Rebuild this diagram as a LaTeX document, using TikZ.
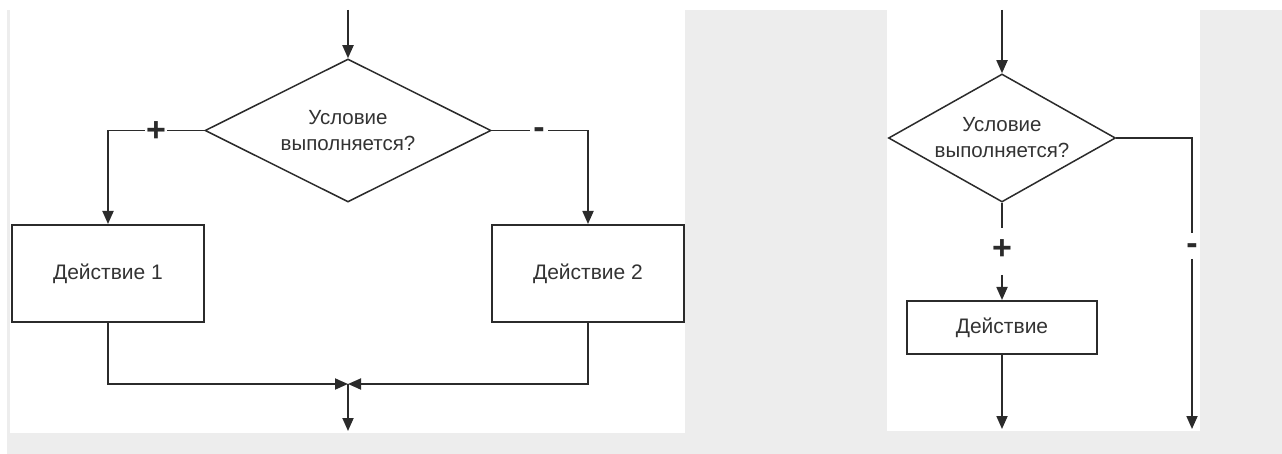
\documentclass[tikz,border=0pt]{standalone}
\usepackage{fontspec}
\setmainfont{Liberation Sans}
\usetikzlibrary{shapes.geometric,arrows.meta}
\definecolor{bggray}{HTML}{EDEDED}
\definecolor{ink}{HTML}{2B2B2B}
\definecolor{txt}{HTML}{333333}
\newcommand{\zw}[1]{\makebox[0pt]{#1}}
\begin{document}
\begin{tikzpicture}[x=1pt,y=-1pt,
  conn/.style={draw=ink, line width=1.8pt, -{Triangle[width=11pt,length=13pt]}},
  wire/.style={draw=ink, line width=1.8pt},
  dec/.style={diamond, draw=ink, line width=1.5pt, inner sep=0pt, align=center,
    font=\fontsize{20.5}{26}\selectfont, text=txt},
  act/.style={rectangle, draw=ink, line width=2pt, inner sep=0pt,
    font=\fontsize{21}{24}\selectfont, text=txt},
  sign/.style={fill=white, inner sep=0pt, font=\fontsize{34}{34}\selectfont\bfseries, text=ink},
  vsign/.style={inner sep=0pt, font=\fontsize{34}{34}\selectfont\bfseries, text=ink}]

\useasboundingbox (0,0) rectangle (1282,454);
\fill[white] (0,0) rectangle (1282,454);
\fill[bggray] (7,10) rectangle (1282,454);
\fill[white] (10,10) rectangle (685,433);
\fill[white] (887,10) rectangle (1200,431);

% ---------- left diagram ----------
\node[dec, minimum width=286pt, minimum height=143pt] (d1) at (348,130.5) {\zw{Условие}\\\zw{выполняется?}};
\node[act, minimum width=192pt, minimum height=97pt] (b1) at (108,273.5) {Действие 1};
\node[act, minimum width=192pt, minimum height=97pt] (b2) at (588,273.5) {Действие 2};
\coordinate (s1) at (348,10);
\coordinate (j1) at (348,384);
\coordinate (e1) at (348,431);

\draw[conn] (s1) -- (d1.north);
\draw[conn] (d1.west) -| (b1.north);
\draw[conn] (d1.east) -| (b2.north);
\draw[conn] (b1.south) |- (j1);
\draw[conn] (b2.south) |- (j1);
\draw[conn] (j1) -- (e1);
\node[sign, minimum width=22pt, minimum height=20pt, text height=23.8pt, text depth=0pt] (pl1) at (156,130) {+};
\node[sign, minimum width=18pt, minimum height=12pt, text height=17.7pt, text depth=0pt] (mi1) at (539,130) {-};

% ---------- right diagram ----------
\node[dec, minimum width=227pt, minimum height=128pt] (d2) at (1002,138) {\zw{Условие}\\\zw{выполняется?}};
\node[act, minimum width=190pt, minimum height=53pt] (b3) at (1002,327.5) {Действие};
\coordinate (s2) at (1002,10);
\coordinate (g1) at (1002,228);
\coordinate (g2) at (1002,275);
\coordinate (e2) at (1002,429);
\coordinate (h1) at (1192,233);
\coordinate (h2) at (1192,259);
\coordinate (e3) at (1192,429);

\draw[conn] (s2) -- (d2.north);
\draw[wire] (d2.south) -- (g1);
\draw[conn] (g2) -- (b3.north);
\draw[conn] (b3.south) -- (e2);
\draw[wire] (d2.east) -| (h1);
\draw[conn] (h2) -- (e3);
\node[vsign, text height=23.8pt, text depth=0pt] (pl2) at (1002,248) {+};
\node[vsign, text height=17.7pt, text depth=0pt] (mi2) at (1192,246) {-};
\end{tikzpicture}
\end{document}
